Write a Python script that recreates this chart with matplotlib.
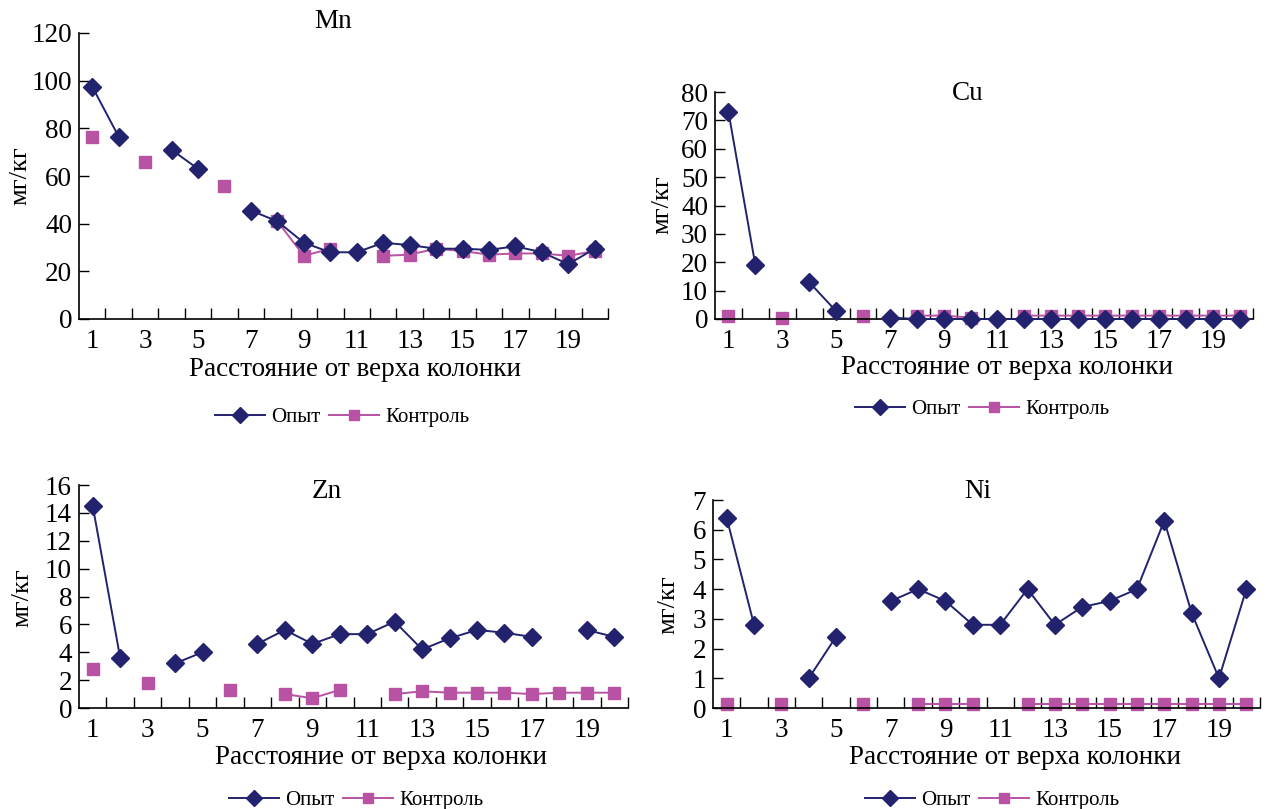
import matplotlib as mpl
mpl.use('Agg')
import matplotlib.pyplot as plt
import numpy as np

plt.rcParams['font.family'] = ['Liberation Serif', 'DejaVu Serif']

positions = list(range(1, 21))
x_labels = [str(i) for i in range(1, 21, 2)]

# values, None = no sample
mn_opyt = [97.5, 76.5, None, 71, 63, None, 45.5, 41, 32, 28, 28, 32, 31, 29.5, 29.5, 29, 30.5, 28, 23, 29.5]
mn_kontrol = [76.5, None, 66, None, None, 56, None, 41, 26.5, 29.5, None, 26.5, 27, 29.5, 28.5, 27, 27.5, 27.5, 26.5, 28.5]

cu_opyt = [73, 19, None, 13, 2.8, None, 0.5, 0, 0, 0, 0, 0, 0, 0, 0, 0, 0, 0, 0, 0]
cu_kontrol = [1.2, None, 0.5, None, None, 1.2, None, 1.2, 1.2, 0.5, None, 1.2, 1.2, 1.2, 1.2, 1.2, 1.2, 1.2, 1.2, 1.2]

zn_opyt = [14.5, 3.6, None, 3.2, 4.0, None, 4.6, 5.6, 4.6, 5.3, 5.3, 6.2, 4.2, 5.0, 5.6, 5.4, 5.1, None, 5.6, 5.1]
zn_kontrol = [2.8, None, 1.8, None, None, 1.3, None, 1.0, 0.7, 1.3, None, 1.0, 1.2, 1.1, 1.1, 1.1, 1.0, 1.1, 1.1, 1.1]

ni_opyt = [6.4, 2.8, None, 1.0, 2.4, None, 3.6, 4.0, 3.6, 2.8, 2.8, 4.0, 2.8, 3.4, 3.6, 4.0, 6.3, 3.2, 1.0, 4.0]
ni_kontrol = [0.15, None, 0.15, None, None, 0.15, None, 0.15, 0.15, 0.15, None, 0.15, 0.15, 0.15, 0.15, 0.15, 0.15, 0.15, 0.15, 0.15]

NAVY = '#22226e'
PINK = '#b852a3'
XLABEL = 'Расстояние от верха колонки'
YLABEL = 'мг/кг'

W, H = 1268, 809
fig = plt.figure(figsize=(W / 100, H / 100), dpi=100)


def px_axes(left, right, top, bottom):
    return fig.add_axes([left / W, 1 - bottom / H, (right - left) / W, (bottom - top) / H])


def as_arr(vals):
    return np.array([np.nan if v is None else v for v in vals], dtype=float)


def draw_panel(box, opyt, kontrol, ymax, ystep, title, title_xy, xlabel_xy, ylabel_xy, legend_xy):
    ax = px_axes(*box)
    ax.plot(positions, as_arr(opyt), color=NAVY, lw=1.4, marker='D', ms=9.5,
            label='Опыт', clip_on=False, zorder=3)
    ax.plot(positions, as_arr(kontrol), color=PINK, lw=1.4, marker='s', ms=9,
            label='Контроль', clip_on=False, zorder=2)
    ax.set_xlim(0.5, 20.5)
    ax.set_ylim(0, ymax)
    ax.set_yticks(np.arange(0, ymax + ystep / 2, ystep))
    ax.set_xticks(np.arange(1.5, 21, 1))
    ax.set_xticklabels([])
    ax.set_xticks(range(1, 21, 2), minor=True)
    ax.set_xticklabels(x_labels, minor=True)
    ax.tick_params(axis='x', which='major', direction='in', length=8, width=1)
    ax.tick_params(axis='x', which='minor', length=0, pad=7, labelsize=19.5)
    ax.tick_params(axis='y', direction='in', length=7, width=1, labelsize=19.5, pad=5)
    for s in ['top', 'right']:
        ax.spines[s].set_visible(False)
    for s in ['left', 'bottom']:
        ax.spines[s].set_linewidth(1.2)
    fig.text(title_xy[0] / W, 1 - title_xy[1] / H, title, ha='center', va='center', fontsize=19.5)
    fig.text(xlabel_xy[0] / W, 1 - xlabel_xy[1] / H, XLABEL, ha='center', va='center', fontsize=19.5)
    fig.text(ylabel_xy[0] / W, 1 - ylabel_xy[1] / H, YLABEL, ha='center', va='center',
             fontsize=19, rotation=90)
    ax.legend(loc='center', bbox_to_anchor=(legend_xy[0] / W, 1 - legend_xy[1] / H),
              bbox_transform=fig.transFigure, ncol=2, frameon=False, fontsize=15,
              handlelength=2.4, handletextpad=0.3, columnspacing=0.4, markerscale=0.85)
    return ax


draw_panel((79, 608, 33, 319), mn_opyt, mn_kontrol, 120, 20, 'Mn',
           (333, 22), (355, 370), (20, 176), (342, 417))
draw_panel((715, 1253, 92, 319), cu_opyt, cu_kontrol, 80, 10, 'Cu',
           (968, 93), (1007, 367), (662, 205), (982, 409))
draw_panel((79, 628, 485, 708), zn_opyt, zn_kontrol, 16, 2, 'Zn',
           (327, 492), (381, 757), (22, 598), (356, 800))
draw_panel((713, 1260, 500, 708), ni_opyt, ni_kontrol, 7, 1, 'Ni',
           (978, 492), (1015, 757), (668, 605), (992, 800))

fig.savefig('out.png', dpi=100)
